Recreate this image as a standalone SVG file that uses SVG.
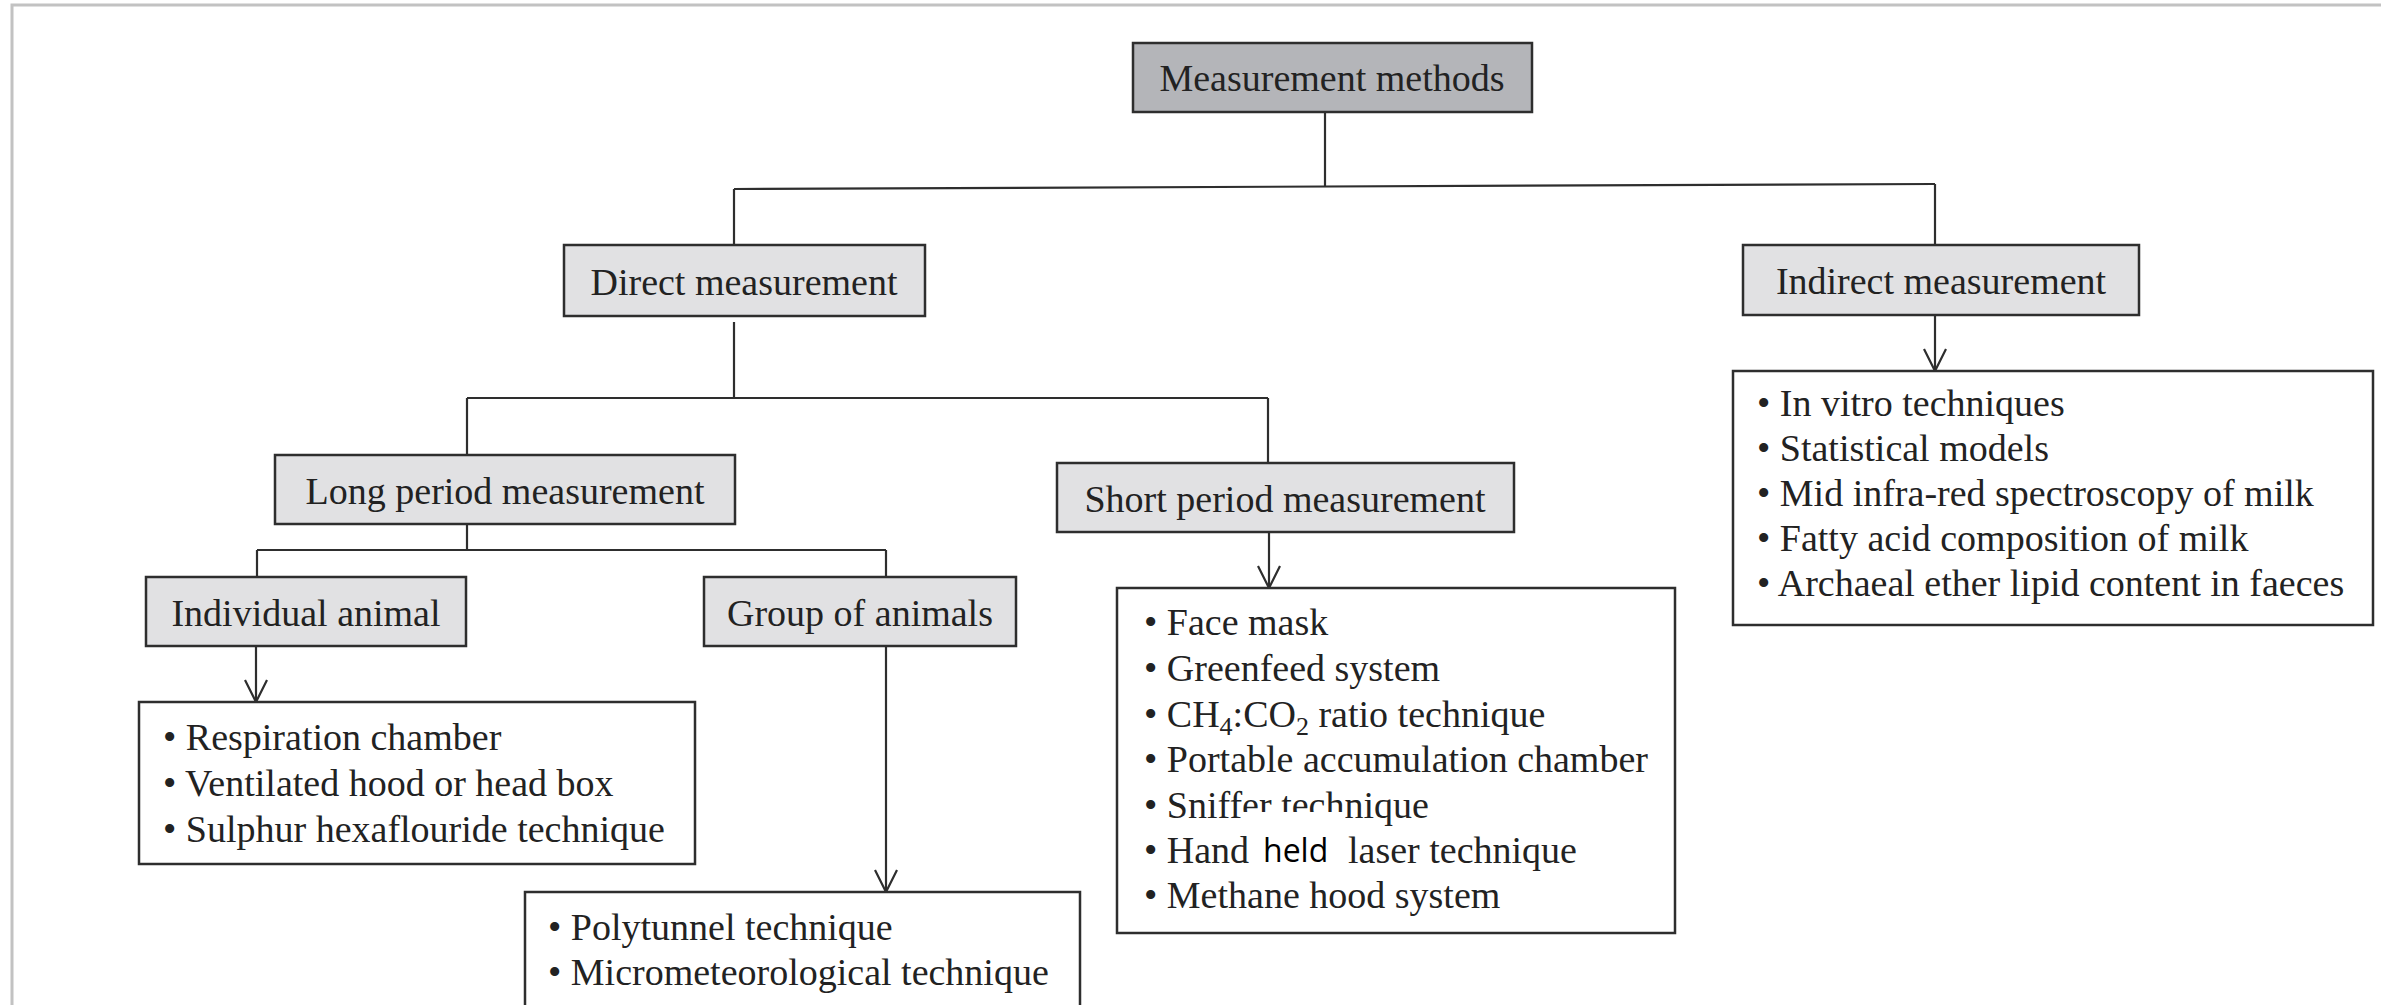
<svg xmlns="http://www.w3.org/2000/svg" width="2381" height="1005" viewBox="0 0 2381 1005">
<style>
  .box { stroke:#2e2e2e; stroke-width:2.5; }
  .dark { fill:#b4b5b9; }
  .light { fill:#e1e1e3; }
  .list { fill:#ffffff; stroke:#2e2e2e; stroke-width:2.5; }
  .lbl { font-family:"Liberation Serif","Times New Roman",serif; font-size:38px; fill:#222; text-anchor:middle; }
  .item { font-family:"Liberation Serif","Times New Roman",serif; font-size:38px; fill:#222; }
  .sans { font-family:"Open Sans","Noto Sans",sans-serif; font-size:32px; fill:#000; }
  .ln { stroke:#2e2e2e; stroke-width:2.2; fill:none; }
  .frame { stroke:#c2c2c2; stroke-width:3; fill:none; }
</style>
<defs>
  <marker id="arr" viewBox="-25 -13 27 26" refX="0" refY="0" markerWidth="27" markerHeight="26" markerUnits="userSpaceOnUse" orient="auto">
    <path d="M-22,-11 L0,0 L-22,11" stroke="#2e2e2e" stroke-width="2.2" fill="none"/>
  </marker>
</defs>
<rect x="0" y="0" width="2381" height="1005" fill="#ffffff"/>
<path class="frame" d="M12,1005 L12,5 L2381,5"/>

<g id="connectors">
  <line class="ln" x1="1325" y1="112" x2="1325" y2="187"/>
  <line class="ln" x1="734" y1="189" x2="1935" y2="184"/>
  <line class="ln" x1="734" y1="189" x2="734" y2="245"/>
  <line class="ln" x1="1935" y1="184" x2="1935" y2="245"/>
  <line class="ln" x1="734" y1="322" x2="734" y2="398"/>
  <line class="ln" x1="467" y1="398" x2="1268" y2="398"/>
  <line class="ln" x1="467" y1="398" x2="467" y2="455"/>
  <line class="ln" x1="1268" y1="398" x2="1268" y2="463"/>
  <line class="ln" x1="467" y1="524" x2="467" y2="550"/>
  <line class="ln" x1="257" y1="550" x2="886" y2="550"/>
  <line class="ln" x1="257" y1="550" x2="257" y2="577"/>
  <line class="ln" x1="886" y1="550" x2="886" y2="577"/>
  <line class="ln" x1="256" y1="646" x2="256" y2="702" marker-end="url(#arr)"/>
  <line class="ln" x1="886" y1="646" x2="886" y2="892" marker-end="url(#arr)"/>
  <line class="ln" x1="1269" y1="532" x2="1269" y2="588" marker-end="url(#arr)"/>
  <line class="ln" x1="1935" y1="315" x2="1935" y2="371" marker-end="url(#arr)"/>
</g>

<g id="measurement-methods">
  <rect class="box dark" x="1133" y="43" width="399" height="69"/>
  <text class="lbl" x="1332" y="91">Measurement methods</text>
</g>
<g id="direct-measurement">
  <rect class="box light" x="564" y="245" width="361" height="71"/>
  <text class="lbl" x="744" y="295">Direct measurement</text>
</g>
<g id="indirect-measurement">
  <rect class="box light" x="1743" y="245" width="396" height="70"/>
  <text class="lbl" x="1941" y="294">Indirect measurement</text>
</g>
<g id="long-period">
  <rect class="box light" x="275" y="455" width="460" height="69"/>
  <text class="lbl" x="505" y="504">Long period measurement</text>
</g>
<g id="short-period">
  <rect class="box light" x="1057" y="463" width="457" height="69"/>
  <text class="lbl" x="1285" y="512">Short period measurement</text>
</g>
<g id="individual-animal">
  <rect class="box light" x="146" y="577" width="320" height="69"/>
  <text class="lbl" x="306" y="626">Individual animal</text>
</g>
<g id="group-of-animals">
  <rect class="box light" x="704" y="577" width="312" height="69"/>
  <text class="lbl" x="860" y="626">Group of animals</text>
</g>

<g id="individual-list">
  <rect class="list" x="139" y="702" width="556" height="162"/>
  <text class="item" x="163" y="750">• Respiration chamber</text>
  <text class="item" x="163" y="796">• Ventilated hood or head box</text>
  <text class="item" x="163" y="842">• Sulphur hexaflouride technique</text>
</g>
<g id="group-list">
  <rect class="list" x="525" y="892" width="555" height="140"/>
  <text class="item" x="548" y="940">• Polytunnel technique</text>
  <text class="item" x="548" y="985">• Micrometeorological technique</text>
</g>
<g id="short-list">
  <rect class="list" x="1117" y="588" width="558" height="345"/>
  <text class="item" x="1144" y="635">• Face mask</text>
  <text class="item" x="1144" y="681">• Greenfeed system</text>
  <text class="item" x="1144" y="727">• CH<tspan font-size="26" dy="8">4</tspan><tspan dy="-8">:CO</tspan><tspan font-size="26" dy="8">2</tspan><tspan dy="-8"> ratio technique</tspan></text>
  <text class="item" x="1144" y="772">• Portable accumulation chamber</text>
  <text class="item" x="1144" y="818">• Sniffer technique</text>
  <rect x="1243" y="812" width="102" height="56" fill="#ffffff"/>
  <text class="item" x="1144" y="863">• Hand</text>
  <text class="sans" x="1263" y="862">held</text>
  <text class="item" x="1348" y="863">laser technique</text>
  <text class="item" x="1144" y="908">• Methane hood system</text>
</g>
<g id="indirect-list">
  <rect class="list" x="1733" y="371" width="640" height="254"/>
  <text class="item" x="1757" y="416">• In vitro techniques</text>
  <text class="item" x="1757" y="461">• Statistical models</text>
  <text class="item" x="1757" y="506">• Mid infra-red spectroscopy of milk</text>
  <text class="item" x="1757" y="551">• Fatty acid composition of milk</text>
  <text class="item" x="1757" y="596">• Archaeal ether lipid content in faeces</text>
</g>
</svg>
